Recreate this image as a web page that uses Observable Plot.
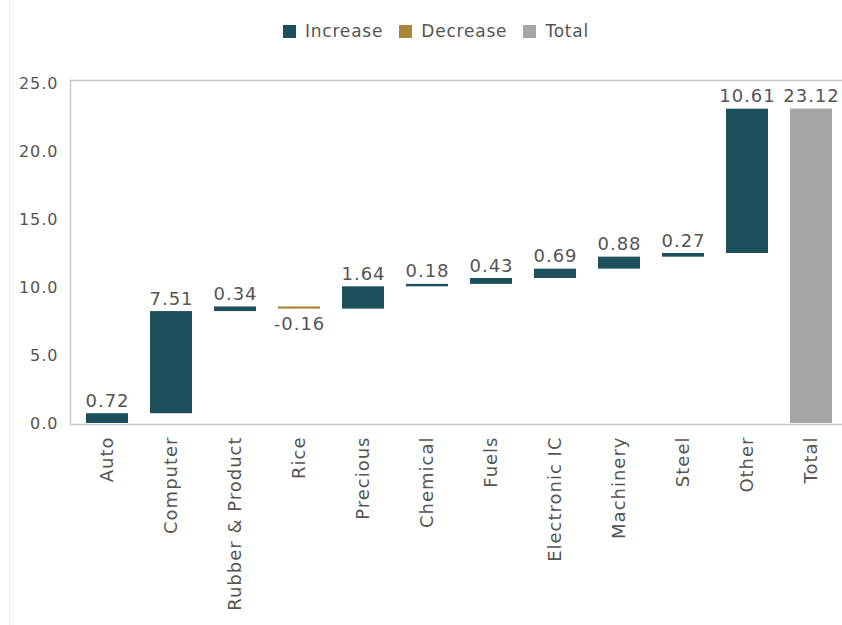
<!DOCTYPE html>
<html>
<head>
<meta charset="utf-8">
<script src="https://cdn.jsdelivr.net/npm/d3@7"></script>
<script src="https://cdn.jsdelivr.net/npm/@observablehq/plot@0.6"></script>
<style>
  html, body { margin: 0; padding: 0; background: #fff; }
  body { width: 842px; height: 625px; position: relative; overflow: hidden; font-family: "DejaVu Sans", sans-serif; }
  #edge { position: absolute; left: 9px; top: 0; width: 1px; height: 625px; background: #f0f0f0; }
  #legend { height: 62px; display: flex; align-items: center; justify-content: center; padding-left: 30px; box-sizing: border-box;
            font-size: 17px; letter-spacing: 0.8px; color: #555; }
  #legend .item { display: flex; align-items: center; margin: 0 8px; }
  #legend .sw { width: 13px; height: 13px; margin-right: 9px; }
  #chart svg text { letter-spacing: 1px; }
</style>
</head>
<body>
<div id="edge"></div>
<div id="legend"></div>
<div id="chart"></div>
<script>
const categories = ["Auto", "Computer", "Rubber & Product", "Rice", "Precious", "Chemical", "Fuels", "Electronic IC", "Machinery", "Steel", "Other"];
const values = [0.72, 7.51, 0.34, -0.16, 1.64, 0.18, 0.43, 0.69, 0.88, 0.27, 10.61];
const totalLabel = "Total";
const totalValue = 23.12;
const yTicks = [0, 5, 10, 15, 20, 25];
const seriesNames = ["Increase", "Decrease", "Total"];
const seriesColors = ["#1e4f5c", "#a8873b", "#a6a6a6"];

// build waterfall rows
let run = 0;
const rows = categories.map((c, i) => {
  const v = values[i];
  const start = run;
  run += v;
  return {cat: c, value: v, start, end: run, lo: Math.min(start, run), hi: Math.max(start, run), type: v >= 0 ? "Increase" : "Decrease"};
});
rows.push({cat: totalLabel, value: totalValue, start: 0, end: totalValue, lo: 0, hi: totalValue, type: "Total"});

// legend
const legend = document.getElementById("legend");
seriesNames.forEach((n, i) => {
  const it = document.createElement("div");
  it.className = "item";
  it.innerHTML = `<span class="sw" style="background:${seriesColors[i]}"></span><span>${n}</span>`;
  legend.appendChild(it);
});

const fmt = v => v.toFixed(2);
const chart = Plot.plot({
  width: 842,
  height: 563,
  marginLeft: 70,
  marginRight: -3,
  marginTop: 18,
  marginBottom: 201,
  style: {fontFamily: "DejaVu Sans, sans-serif", color: "#555", background: "transparent"},
  x: {type: "band", domain: rows.map(d => d.cat), range: [85, 832.7], paddingInner: 0.345, paddingOuter: 0, label: null},
  y: {domain: [0, 25], range: [361, 21], label: null},
  color: {domain: seriesNames, range: seriesColors},
  marks: [
    Plot.frame({stroke: "#c8c8c8", strokeWidth: 1.5}),
    Plot.axisY({ticks: yTicks, tickFormat: d3.format(".1f"), tickSize: 0, tickPadding: 12, fontSize: 16, label: null}),
    Plot.axisX({tickRotate: -90, tickSize: 0, tickPadding: 12, fontSize: 18, label: null}),
    Plot.barY(rows, {x: "cat", y1: "lo", y2: "hi", fill: "type"}),
    Plot.text(rows.filter(d => d.type !== "Decrease"), {x: "cat", y: "hi", text: d => fmt(d.value), lineAnchor: "bottom", dy: -7, fontSize: 18, fill: "#555"}),
    Plot.text(rows.filter(d => d.type === "Decrease"), {x: "cat", y: "lo", text: d => fmt(d.value), lineAnchor: "top", dy: 8, fontSize: 18, fill: "#555"})
  ]
});
document.getElementById("chart").appendChild(chart);
</script>
</body>
</html>
